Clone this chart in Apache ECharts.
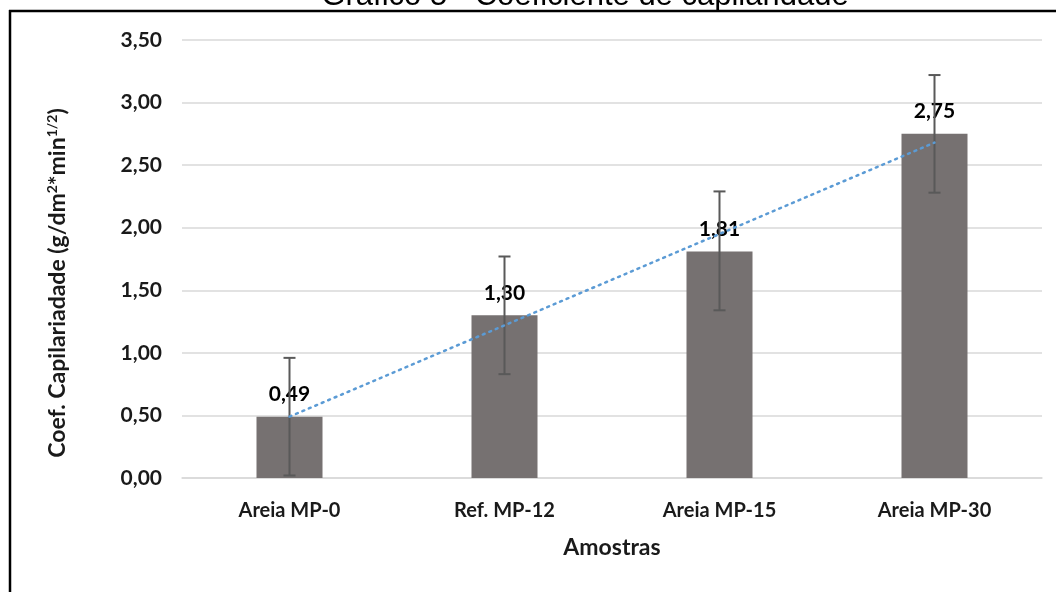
<!DOCTYPE html>
<html>
<head>
<meta charset="utf-8">
<script src="https://cdn.jsdelivr.net/npm/echarts@6/dist/echarts.min.js"></script>
<style>
html,body{margin:0;padding:0;background:#fff;}
#chart{width:1056px;height:592px;}
</style>
</head>
<body>
<div id="chart"></div>
<script>
const categories = ['Areia MP-0', 'Ref. MP-12', 'Areia MP-15', 'Areia MP-30'];
const values = [0.49, 1.30, 1.81, 2.75];
const errLow = [0.02, 0.83, 1.34, 2.28];
const errHigh = [0.96, 1.77, 2.29, 3.22];
const trendValues = [0.49, 1.22, 1.95, 2.68];
const yTicks = { min: 0, max: 3.5, interval: 0.5 };
const titleText = 'Gráfico 5 - Coeficiente de capilaridade';
const xName = 'Amostras';

const fmt = v => v.toFixed(2).replace('.', ',');
const chart = echarts.init(document.getElementById('chart'));
const font = 'Lato';

chart.setOption({
  animation: false,
  backgroundColor: '#ffffff',
  grid: { left: 182, right: 14, top: 40, bottom: 114, containLabel: false },
  xAxis: {
    type: 'category',
    data: categories,
    axisLine: { show: true, lineStyle: { color: '#d9d9d9', width: 1.5 } },
    axisTick: { show: false },
    axisLabel: { margin: 23, color: '#1a1a1a', fontFamily: font, fontWeight: 'bold', fontSize: 20 },
    name: xName,
    nameLocation: 'middle',
    nameGap: 58,
    nameTextStyle: { color: '#1a1a1a', fontFamily: font, fontWeight: 'bold', fontSize: 23 }
  },
  yAxis: {
    type: 'value',
    min: yTicks.min, max: yTicks.max, interval: yTicks.interval,
    axisLine: { show: false },
    axisTick: { show: false },
    splitLine: { lineStyle: { color: '#d9d9d9', width: 1.5 } },
    axisLabel: { margin: 20, color: '#1a1a1a', fontFamily: font, fontWeight: 'bold', fontSize: 21, formatter: v => fmt(v) }
  },
  graphic: [
    { type: 'line', shape: { x1: 9, y1: 11, x2: 1056, y2: 11 }, style: { stroke: '#000', lineWidth: 2.5 }, z: 100 },
    { type: 'line', shape: { x1: 10, y1: 10, x2: 10, y2: 592 }, style: { stroke: '#000', lineWidth: 2.5 }, z: 100 },
    { type: 'text', x: 585, y: 12, style: { text: titleText, font: '31px "Liberation Sans"', fill: '#000', textAlign: 'center', textVerticalAlign: 'bottom' }, z: 99 },
    {
      type: 'text', x: 58, y: 283, rotation: Math.PI / 2,
      style: {
        text: 'Coef. Capilariadade (g/dm{sup|2}*min{sup|1/2})',
        fill: '#1a1a1a', fontFamily: font, fontWeight: 'bold', fontSize: 23,
        textAlign: 'center', textVerticalAlign: 'middle',
        rich: { sup: { fontFamily: font, fontWeight: 'bold', fontSize: 14, fill: '#1a1a1a', padding: [0, 0, 12, 0] } }
      }
    }
  ],
  series: [
    {
      type: 'bar',
      data: values,
      barWidth: 66,
      itemStyle: { color: '#767171' },
      label: { show: true, position: 'top', distance: 12, color: '#000', fontFamily: font, fontWeight: 'bold', fontSize: 21, formatter: p => fmt(p.value) },
      z: 2
    },
    {
      type: 'custom',
      data: categories.map((c, i) => [i, errLow[i], errHigh[i]]),
      renderItem: function (params, api) {
        const i = api.value(0);
        const top = api.coord([i, api.value(2)]);
        const bot = api.coord([i, api.value(1)]);
        const w = 6;
        const st = { stroke: '#595959', lineWidth: 2 };
        return {
          type: 'group',
          children: [
            { type: 'line', shape: { x1: top[0], y1: top[1], x2: bot[0], y2: bot[1] }, style: st },
            { type: 'line', shape: { x1: top[0] - w, y1: top[1], x2: top[0] + w, y2: top[1] }, style: st },
            { type: 'line', shape: { x1: bot[0] - w, y1: bot[1], x2: bot[0] + w, y2: bot[1] }, style: st }
          ]
        };
      },
      z: 3
    },
    {
      type: 'line',
      data: trendValues,
      symbol: 'none',
      lineStyle: { color: '#5B9BD5', width: 2.5, type: [2, 5], cap: 'round' },
      z: 4
    }
  ]
});
</script>
</body>
</html>
